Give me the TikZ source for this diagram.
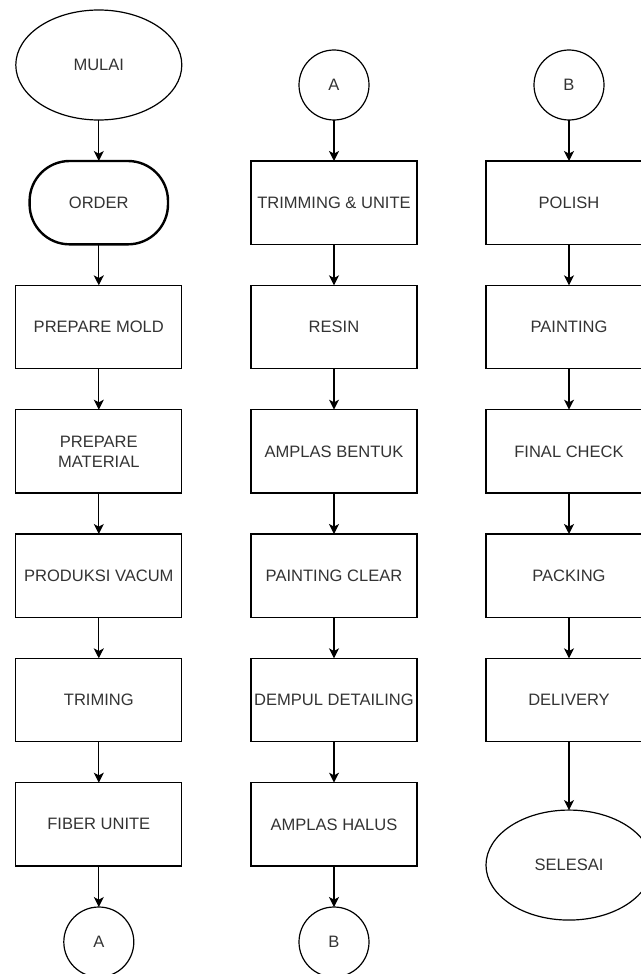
\documentclass[tikz,border=0pt]{standalone}
\usepackage{fontspec}
\setmainfont{Liberation Sans}
\usetikzlibrary{shapes.geometric,arrows.meta,positioning}

\begin{document}
\begin{tikzpicture}[
  x=0.75pt, y=0.75pt,
  node distance=30.75pt,
  every node/.style={text=black!80, outer sep=0pt, font=\fontsize{12.4}{15}\selectfont},
  proc/.style={draw, line width=0.9pt, minimum width=124.5pt, minimum height=62.5pt, align=center, inner sep=1pt},
  term/.style={draw, ellipse, line width=0.9pt, minimum width=124.5pt, minimum height=82.5pt, inner sep=1pt},
  conn/.style={draw, circle, line width=0.9pt, minimum size=52.5pt, inner sep=1pt},
  flow/.style={-{Stealth[length=7.5pt,width=7.5pt,inset=2pt]}, line width=0.9pt}
]
\useasboundingbox (0,0) rectangle (640,-974);
% kolom 1
\node[term] (mulai) at (98.8,-65) {MULAI};
\node[draw, line width=1.8pt, rounded corners=30pt, minimum width=103.8pt, minimum height=62.5pt, below=of mulai] (order) {ORDER};
\node[proc, below=of order] (mold) {PREPARE MOLD};
\node[proc, below=of mold] (mat) {PREPARE\\MATERIAL};
\node[proc, below=of mat] (vac) {PRODUKSI VACUM};
\node[proc, below=of vac] (trim) {TRIMING};
\node[proc, below=of trim] (fiber) {FIBER UNITE};
\node[conn, below=of fiber] (a1) {A};
% kolom 2
\node[conn] (a2) at (334,-85) {A};
\node[proc, below=of a2] (unite) {TRIMMING \& UNITE};
\node[proc, below=of unite] (resin) {RESIN};
\node[proc, below=of resin] (bentuk) {AMPLAS BENTUK};
\node[proc, below=of bentuk] (clear) {PAINTING CLEAR};
\node[proc, below=of clear] (dempul) {DEMPUL DETAILING};
\node[proc, below=of dempul] (halus) {AMPLAS HALUS};
\node[conn, below=of halus] (b1) {B};
% kolom 3
\node[conn] (b2) at (569,-85) {B};
\node[proc, below=of b2] (polish) {POLISH};
\node[proc, below=of polish] (paint) {PAINTING};
\node[proc, below=of paint] (check) {FINAL CHECK};
\node[proc, below=of check] (pack) {PACKING};
\node[proc, below=of pack] (deliv) {DELIVERY};
\node[term, below=51.3pt of deliv] (selesai) {SELESAI};

\draw[flow] (mulai) -- (order);
\draw[flow] (order) -- (mold);
\draw[flow] (mold) -- (mat);
\draw[flow] (mat) -- (vac);
\draw[flow] (vac) -- (trim);
\draw[flow] (trim) -- (fiber);
\draw[flow] (fiber) -- (a1);
\draw[flow] (a2) -- (unite);
\draw[flow] (unite) -- (resin);
\draw[flow] (resin) -- (bentuk);
\draw[flow] (bentuk) -- (clear);
\draw[flow] (clear) -- (dempul);
\draw[flow] (dempul) -- (halus);
\draw[flow] (halus) -- (b1);
\draw[flow] (b2) -- (polish);
\draw[flow] (polish) -- (paint);
\draw[flow] (paint) -- (check);
\draw[flow] (check) -- (pack);
\draw[flow] (pack) -- (deliv);
\draw[flow] (deliv) -- (selesai);
\end{tikzpicture}
\end{document}
